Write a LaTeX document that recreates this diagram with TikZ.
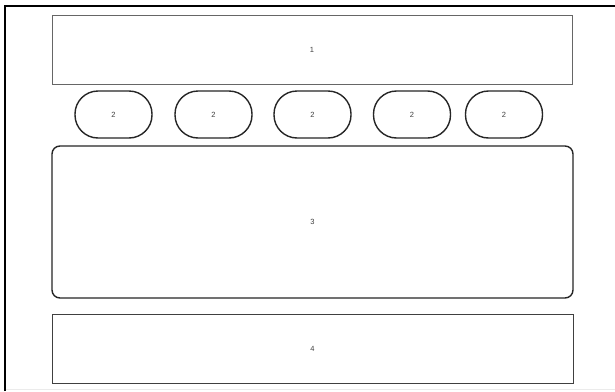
\documentclass[tikz,border=0pt]{standalone}
\usepackage{fontspec}
\setmainfont{Liberation Sans}
\begin{document}
\begin{tikzpicture}[x=1pt,y=-1pt,
  lbl/.style={font=\fontsize{7.5}{8.5}\selectfont, text=black!75},
  flatbox/.style={draw=black!60, line width=0.9pt, inner sep=0pt, lbl},
  pill/.style={draw=black!85, line width=1.4pt, rounded corners=23pt, inner sep=0pt, minimum width=77pt, minimum height=47pt, lbl},
  bigbox/.style={draw=black!85, line width=1.4pt, rounded corners=8pt, inner sep=0pt, lbl}]
\useasboundingbox (0,0) rectangle (615,391);
\fill[white] (0,0) rectangle (615,391);
\draw[black!8, line width=1pt] (5,389) -- (615,389);
\draw[black, line width=2pt] (5,391) -- (5,6) -- (615,6);
\node[flatbox, minimum width=520pt, minimum height=69pt] (b1) at (312,49.5) {1};
\node[pill] (p1) at (113.5,114.5) {2};
\node[pill] (p2) at (213.5,114.5) {2};
\node[pill] (p3) at (312.5,114.5) {2};
\node[pill] (p4) at (412,114.5) {2};
\node[pill] (p5) at (504,114.5) {2};
\node[bigbox, minimum width=521pt, minimum height=152pt] (b3) at (312.5,222) {3};
\node[flatbox, draw=black!75, minimum width=521pt, minimum height=69pt] (b4) at (312.5,348.5) {4};
\end{tikzpicture}
\end{document}
